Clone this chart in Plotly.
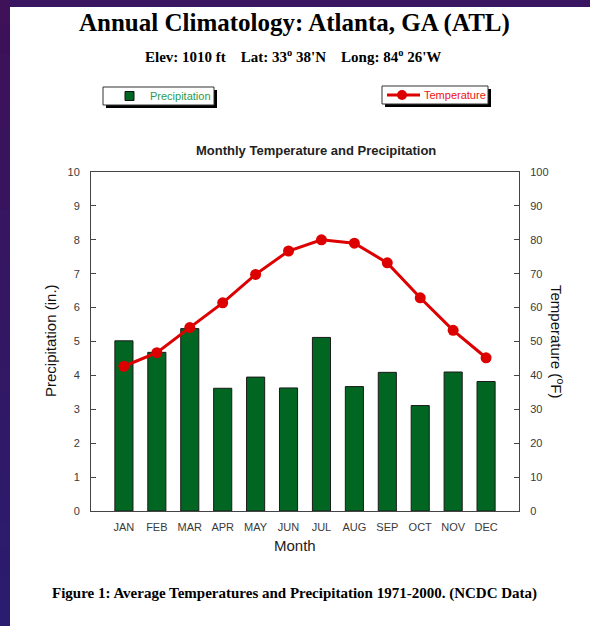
import plotly.graph_objects as go

months = ["JAN", "FEB", "MAR", "APR", "MAY", "JUN", "JUL", "AUG", "SEP", "OCT", "NOV", "DEC"]
precip = [5.02, 4.68, 5.38, 3.62, 3.95, 3.63, 5.12, 3.67, 4.09, 3.11, 4.10, 3.82]
temp = [42.7, 46.7, 54.1, 61.4, 69.8, 76.7, 80.0, 79.0, 73.2, 62.9, 53.3, 45.2]
y_ticks = [0, 1, 2, 3, 4, 5, 6, 7, 8, 9, 10]
y2_ticks = [0, 10, 20, 30, 40, 50, 60, 70, 80, 90, 100]

W, H = 590, 626
ML, MR, MT, MB = 91, 71, 172, 115
PW, PH = W - ML - MR, H - MT - MB

def px(x):
    return (x - ML) / PW

def py(y):
    return (H - MB - y) / PH

SERIF = "Liberation Serif, Times New Roman, serif"
SANS = "Liberation Sans, Arial, Helvetica, sans-serif"
GREEN = "#006622"
RED = "#dd0000"

fig = go.Figure()
fig.add_trace(go.Bar(
    x=months, y=precip, width=0.55,
    marker=dict(color=GREEN, line=dict(color="#1a1a1a", width=1)),
    showlegend=False, hoverinfo="skip"))
fig.add_trace(go.Scatter(
    x=months, y=temp, yaxis="y2", mode="lines+markers",
    line=dict(color=RED, width=3),
    marker=dict(color=RED, size=11),
    showlegend=False, hoverinfo="skip"))

shapes = []
# purple gradient for the left border
n_bands = 24
c_top = (62, 17, 88)
c_bot = (42, 28, 110)
for i in range(n_bands):
    t = i / (n_bands - 1)
    c = tuple(int(round(a + (b - a) * t)) for a, b in zip(c_top, c_bot))
    y0 = H * i / n_bands
    y1 = H * (i + 1) / n_bands + 1
    shapes.append(dict(type="rect", xref="paper", yref="paper", x0=px(-2), x1=px(10), y0=py(y0), y1=py(y1),
                       fillcolor="rgb(%d,%d,%d)" % c, line=dict(width=0), layer="below"))
# white panel
shapes.append(dict(type="rect", xref="paper", yref="paper", x0=px(10), x1=px(W + 5), y0=py(7), y1=py(H + 5),
                   fillcolor="white", line=dict(width=0), layer="below"))
# legend boxes with shadows
for (x0, x1, y0, y1) in [(103, 214, 87, 105), (382, 488, 86, 104)]:
    shapes.append(dict(type="rect", xref="paper", yref="paper", x0=px(x0 + 3), x1=px(x1 + 3), y0=py(y0 + 3), y1=py(y1 + 3),
                       fillcolor="black", line=dict(width=0), layer="above"))
    shapes.append(dict(type="rect", xref="paper", yref="paper", x0=px(x0), x1=px(x1), y0=py(y0), y1=py(y1),
                       fillcolor="white", line=dict(color="#333333", width=1), layer="above"))
# legend symbols
shapes.append(dict(type="rect", xref="paper", yref="paper", x0=px(125), x1=px(134), y0=py(91.5), y1=py(100.5),
                   fillcolor=GREEN, line=dict(color="#111111", width=1), layer="above"))
shapes.append(dict(type="line", xref="paper", yref="paper", x0=px(387), x1=px(420), y0=py(95), y1=py(95),
                   line=dict(color=RED, width=3), layer="above"))
shapes.append(dict(type="circle", xref="paper", yref="paper", x0=px(397), x1=px(407), y0=py(90), y1=py(100),
                   fillcolor=RED, line=dict(color=RED, width=0), layer="above"))

def ann(text, x, y, size, font=SANS, color="#111111", angle=0, xanchor="center"):
    return dict(text=text, x=px(x), y=py(y), xref="paper", yref="paper", showarrow=False,
                xanchor=xanchor, yanchor="middle", textangle=angle,
                font=dict(family=font, size=size, color=color))

SP = "&nbsp;" * 4
annotations = [
    ann("<b>Annual Climatology: Atlanta, GA (ATL)</b>", 294, 23, 25, SERIF, "#000000"),
    ann("<b>Elev: 1010 ft" + SP + "Lat: 33<sup>o</sup> 38'N" + SP + "Long: 84<sup>o</sup> 26'W</b>",
        293, 56, 15, SERIF, "#000000"),
    ann("Precipitation", 148, 96, 11, SANS, "#2e9a4e", xanchor="left"),
    ann("Temperature", 422, 95, 11, SANS, "#ee1111", xanchor="left"),
    ann("<b>Monthly Temperature and Precipitation</b>", 316, 151, 13, SANS, "#222222"),
    ann("Precipitation (in.)", 50, 341, 15, SANS, "#111111", angle=-90),
    ann("Temperature (<sup>o</sup>F)", 558, 341, 15, SANS, "#111111", angle=90),
    ann("Month", 295, 545, 15, SANS, "#222222"),
    ann("<b>Figure 1: Average Temperatures and Precipitation 1971-2000. (NCDC Data)</b>",
        294, 593, 15, SERIF, "#000000"),
]

axis_line = "#444444"
tick_font = dict(family=SANS, size=11, color="#3a3a3a")
fig.update_layout(
    width=W, height=H,
    margin=dict(l=ML, r=MR, t=MT, b=MB, pad=0),
    paper_bgcolor="#3a1561",
    plot_bgcolor="white",
    bargap=0.45,
    shapes=shapes,
    annotations=annotations,
    xaxis=dict(type="category", range=[-1, 12], showline=True, linecolor=axis_line, linewidth=1,
               mirror=True, ticks="", showgrid=False, zeroline=False, fixedrange=True,
               tickfont=tick_font, ticklabelstandoff=6),
    yaxis=dict(range=[0, 10], tickvals=y_ticks, ticks="inside", ticklen=5, tickcolor=axis_line,
               showline=True, linecolor=axis_line, linewidth=1, showgrid=False, zeroline=False,
               tickfont=tick_font, ticklabelstandoff=8),
    yaxis2=dict(range=[0, 100], tickvals=y2_ticks, overlaying="y", side="right", ticks="inside", ticklen=5,
                tickcolor=axis_line, showline=True, linecolor=axis_line, linewidth=1, showgrid=False,
                zeroline=False, tickfont=tick_font, ticklabelstandoff=8),
)

fig.write_html("out.html", config={"displayModeBar": False},
               post_script="document.body.style.margin='0';document.body.style.background='white';")
